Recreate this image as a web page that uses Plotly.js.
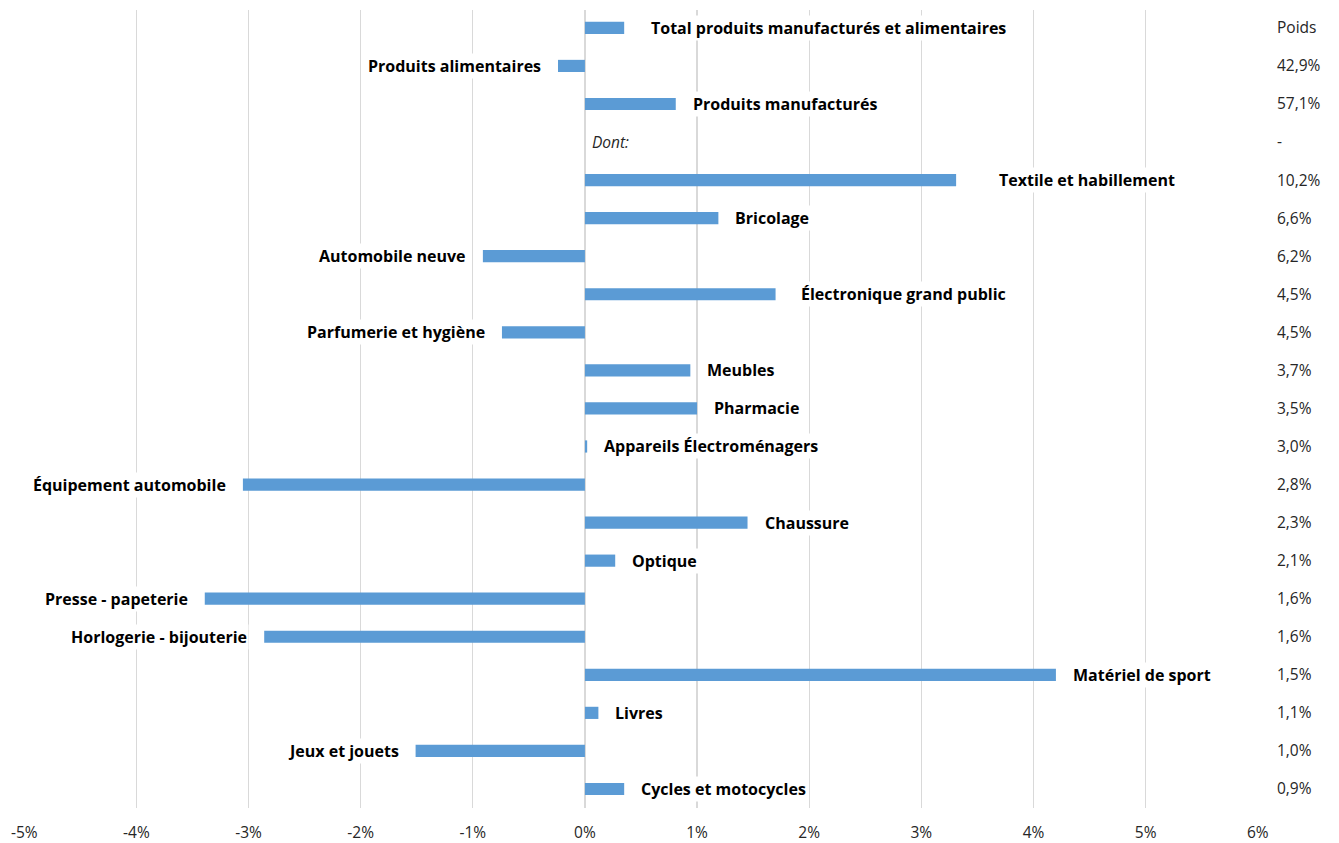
<!DOCTYPE html>
<html>
<head>
<meta charset="utf-8">
<script src="https://cdn.plot.ly/plotly-3.0.1.min.js"></script>
<style>html,body{margin:0;padding:0;background:#fff;}#chart{width:1339px;height:843px;}</style>
</head>
<body>
<div id="chart"></div>
<script>
const categories = [
  "Total produits manufacturés et alimentaires",
  "Produits alimentaires",
  "Produits manufacturés",
  "Dont:",
  "Textile et habillement",
  "Bricolage",
  "Automobile neuve",
  "Électronique grand public",
  "Parfumerie et hygiène",
  "Meubles",
  "Pharmacie",
  "Appareils Électroménagers",
  "Équipement automobile",
  "Chaussure",
  "Optique",
  "Presse - papeterie",
  "Horlogerie - bijouterie",
  "Matériel de sport",
  "Livres",
  "Jeux et jouets",
  "Cycles et motocycles"
];
const values = [0.35, -0.24, 0.81, null, 3.31, 1.19, -0.91, 1.70, -0.74, 0.94, 1.00, 0.02, -3.05, 1.45, 0.27, -3.39, -2.86, 4.20, 0.12, -1.51, 0.35];
const weights = ["Poids", "42,9%", "57,1%", "-", "10,2%", "6,6%", "6,2%", "4,5%", "4,5%", "3,7%", "3,5%", "3,0%", "2,8%", "2,3%", "2,1%", "1,6%", "1,6%", "1,5%", "1,1%", "1,0%", "0,9%"];
const xTickVals = [-5, -4, -3, -2, -1, 0, 1, 2, 3, 4, 5, 6];
const xTickText = ["-5%", "-4%", "-3%", "-2%", "-1%", "0%", "1%", "2%", "3%", "4%", "5%", "6%"];

const FONT = "'Open Sans', sans-serif";
// extra label nudges (px) as placed in the original chart
const nudge = {"Total produits manufacturés et alimentaires": 10, "Textile et habillement": 26, "Électronique grand public": 8};

const annotations = categories.map((c, i) => {
  const v = values[i];
  if (v === null) {
    return {x: 0, y: c, xref: 'x', yref: 'y', text: '<i>' + c + '</i>', showarrow: false,
      xanchor: 'left', xshift: 5, font: {family: FONT, size: 15.5, color: '#262626'}, bgcolor: '#fff'};
  }
  const pos = v >= 0;
  const sh = 15 + (nudge[c] || 0);
  return {x: v, y: c, xref: 'x', yref: 'y', text: '<b>' + c + '</b>', showarrow: false,
    xanchor: pos ? 'left' : 'right', xshift: pos ? sh : -sh,
    font: {family: FONT, size: 16, color: '#000'}, bgcolor: '#fff', borderpad: 1};
});

const trace = {
  type: 'bar', orientation: 'h', x: values, y: categories,
  marker: {color: '#5b9bd5'}, hoverinfo: 'x+y'
};

const layout = {
  width: 1339, height: 843,
  margin: {l: 24, r: 81, t: 10, b: 35},
  paper_bgcolor: '#fff', plot_bgcolor: '#fff',
  showlegend: false,
  bargap: 0.68,
  xaxis: {
    range: [-5.002, 6.002], tickmode: 'array', tickvals: xTickVals, ticktext: xTickText,
    showgrid: true, gridcolor: '#d9d9d9', gridwidth: 1.3,
    zeroline: true, zerolinecolor: '#d9d9d9', zerolinewidth: 1.3,
    showline: false, ticks: '', ticklabelstandoff: 13,
    tickfont: {family: FONT, size: 15.5, color: '#262626'}
  },
  yaxis: {
    type: 'category', categoryorder: 'array', categoryarray: categories,
    range: [20.5, -0.47], side: 'right',
    tickmode: 'array', tickvals: categories, ticktext: weights,
    showgrid: false, zeroline: false, showline: false, ticks: '',
    ticklabelstandoff: 18,
    tickfont: {family: FONT, size: 15.5, color: '#262626'}
  },
  annotations: annotations
};

Plotly.newPlot('chart', [trace], layout, {staticPlot: true});
</script>
</body>
</html>
